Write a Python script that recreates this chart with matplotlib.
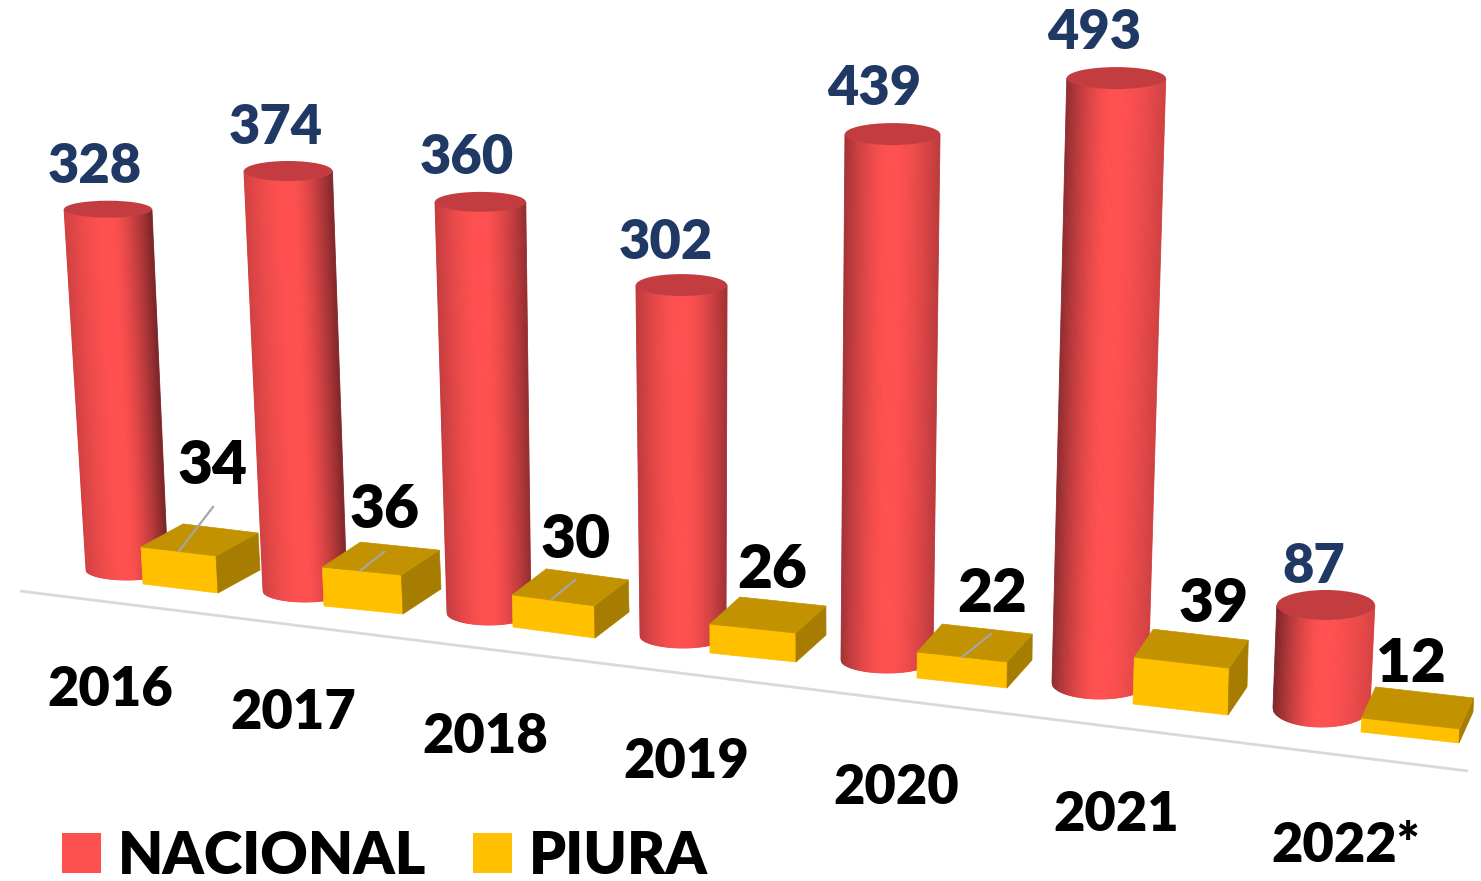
import numpy as np
import matplotlib
matplotlib.use("Agg")
import matplotlib.pyplot as plt
from matplotlib.collections import PolyCollection
from matplotlib.patches import Polygon, Ellipse, Patch

# ---- data ----
years = ["2016", "2017", "2018", "2019", "2020", "2021", "2022*"]
nacional = [328, 374, 360, 302, 439, 493, 87]
piura = [34, 36, 30, 26, 22, 39, 12]

# ---- perspective of the scene (pixels of the original picture) ----
cyl_base_x = [127, 305, 489, 683, 887, 1100, 1321.5]
cyl_base_y = [570, 591, 613, 636, 660, 683, 708]
cyl_base_w = [82, 84, 84, 86, 92, 96, 97]
cyl_base_h = [10, 11, 12, 12, 13, 16, 19]
cyl_top_h = [8.5, 10, 10, 11, 11, 11, 15]
cyl_scale = [1.10, 1.123, 1.142, 1.162, 1.198, 1.227, 1.184]
cyl_spread = [0.018, 0.012, 0.019, 0.017, 0.007, 0.006, 0.012]
lean = [-0.058, -0.045, -0.024, -0.005, 0.0125, 0.033, 0.05]
shade_left = [0.35, 0.35, 0.45, 0.5, 0.7, 0.85, 1.0]
shade_right = [1.0, 0.95, 0.8, 0.7, 0.5, 0.35, 0.3]

box_fl = [(143, 584), (324, 606), (513, 627), (710, 653), (917, 678), (1133, 704), (1361, 732)]
box_fr = [(218, 593), (403, 614), (595, 638), (796, 662), (1007, 688), (1228, 715), (1459, 743)]
box_br = [(260, 570), (441, 589), (629, 612), (826, 635), (1032, 660), (1247, 687), (1473, 712)]
box_scale = [1.09, 1.08, 1.07, 1.115, 1.18, 1.2, 1.17]

nac_label_pos = [(95, 167), (276, 128), (467, 158), (666, 243), (874, 89), (1094, 33), (1314, 567)]
piu_label_pos = [(213, 466), (385, 511), (576, 540), (772, 571), (992, 594), (1214, 605), (1411, 664)]
year_label_pos = [(110, 690), (293, 713), (485, 737), (686, 762), (896, 788), (1116, 815), (1346, 846)]
leaders = {0: ((179, 551), (213, 507)), 1: ((361, 570), (384, 552)),
           2: ((552, 599), (575, 580)), 4: ((962, 657), (991, 634))}

RED = np.array(matplotlib.colors.to_rgb("#FF5050"))
DARK = np.array(matplotlib.colors.to_rgb("#7A2528"))
CAP = "#C33C3F"
BOX_FRONT, BOX_TOP, BOX_SIDE = "#FFC000", "#C29200", "#A67D00"
NAVY = "#1F3864"
FONT = "Lato"
WEIGHT = "heavy"

fig = plt.figure(figsize=(14.81, 8.81), dpi=100)
ax = fig.add_axes([0, 0, 1, 1])
ax.set_xlim(0, 1481)
ax.set_ylim(881, 0)
ax.axis("off")

# floor line
ax.plot([20, 1468], [591, 771], color="#D9D9D9", lw=2, zorder=1, solid_capstyle="butt")


def draw_cylinder(i, v, z):
    bx, by = cyl_base_x[i], cyl_base_y[i]
    bw, bh = cyl_base_w[i], cyl_base_h[i]
    tx = bx + v * lean[i]
    ty = by - v * cyl_scale[i]
    tw = bw + v * cyl_spread[i]
    th = cyl_top_h[i]
    n = 90
    us = np.linspace(-1, 1, n + 1)
    polys, cols = [], []
    for a, b in zip(us[:-1], us[1:]):
        ya, yb = np.sqrt(1 - a * a), np.sqrt(1 - b * b)
        polys.append([(tx + a * tw / 2, ty + ya * th), (tx + b * tw / 2, ty + yb * th),
                      (bx + b * bw / 2, by + yb * bh), (bx + a * bw / 2, by + ya * bh)])
        m = (a + b) / 2
        d = shade_left[i] if m < 0 else shade_right[i]
        amt = d * np.clip((abs(m) - 0.1) / 0.9, 0, 1) ** 1.5
        cols.append(tuple(RED * (1 - amt) + DARK * amt))
    ax.add_collection(PolyCollection(polys, facecolors=cols, edgecolors=cols, linewidths=0.6, zorder=z))
    ax.add_patch(Ellipse((tx, ty), tw, 2 * th, facecolor=CAP, edgecolor="none", zorder=z + 0.1))


def draw_box(i, v, z):
    fl, fr, br = map(np.array, (box_fl[i], box_fr[i], box_br[i]))
    up = np.array([v * lean[i], -v * box_scale[i]])
    depth = br - fr
    tfl, tfr, tbr, tbl = fl + up, fr + up, br + up, fl + depth + up
    ax.add_patch(Polygon([fl, fr, tfr, tfl], facecolor=BOX_FRONT, edgecolor=BOX_FRONT, lw=0.5, zorder=z))
    ax.add_patch(Polygon([fr, br, tbr, tfr], facecolor=BOX_SIDE, edgecolor=BOX_SIDE, lw=0.5, zorder=z))
    ax.add_patch(Polygon([tfl, tfr, tbr, tbl], facecolor=BOX_TOP, edgecolor=BOX_TOP, lw=0.5, zorder=z))


for i in range(len(years)):
    draw_cylinder(i, nacional[i], 2 + i * 0.5)
    draw_box(i, piura[i], 2.3 + i * 0.5)

for i, (p, q) in leaders.items():
    ax.plot([p[0], q[0]], [p[1], q[1]], color="#A6A6A6", lw=1.6, zorder=8)

for i in range(len(years)):
    x, y = nac_label_pos[i]
    ax.text(x, y, str(nacional[i]), color=NAVY, fontsize=39, fontweight=WEIGHT, family=FONT,
            ha="center", va="center", zorder=9)
    x, y = piu_label_pos[i]
    ax.text(x, y, str(piura[i]), color="black", fontsize=43.5, fontweight=WEIGHT, family=FONT,
            ha="center", va="center", zorder=9)
    x, y = year_label_pos[i]
    ax.text(x, y, years[i], color="black", fontsize=39, fontweight=WEIGHT, family=FONT,
            ha="center", va="center", zorder=9)

handles = [Patch(facecolor="#FF5050", label="NACIONAL"), Patch(facecolor="#FFC000", label="PIURA")]
ax.legend(handles=handles, ncol=2, loc="center left", bbox_to_anchor=(62, 856),
          bbox_transform=ax.transData, frameon=False, borderpad=0, borderaxespad=0,
          handlelength=0.66, handleheight=0.66, handletextpad=0.3, columnspacing=0.8,
          prop={"family": FONT, "weight": WEIGHT, "size": 42})

fig.savefig("out.png", dpi=100)
